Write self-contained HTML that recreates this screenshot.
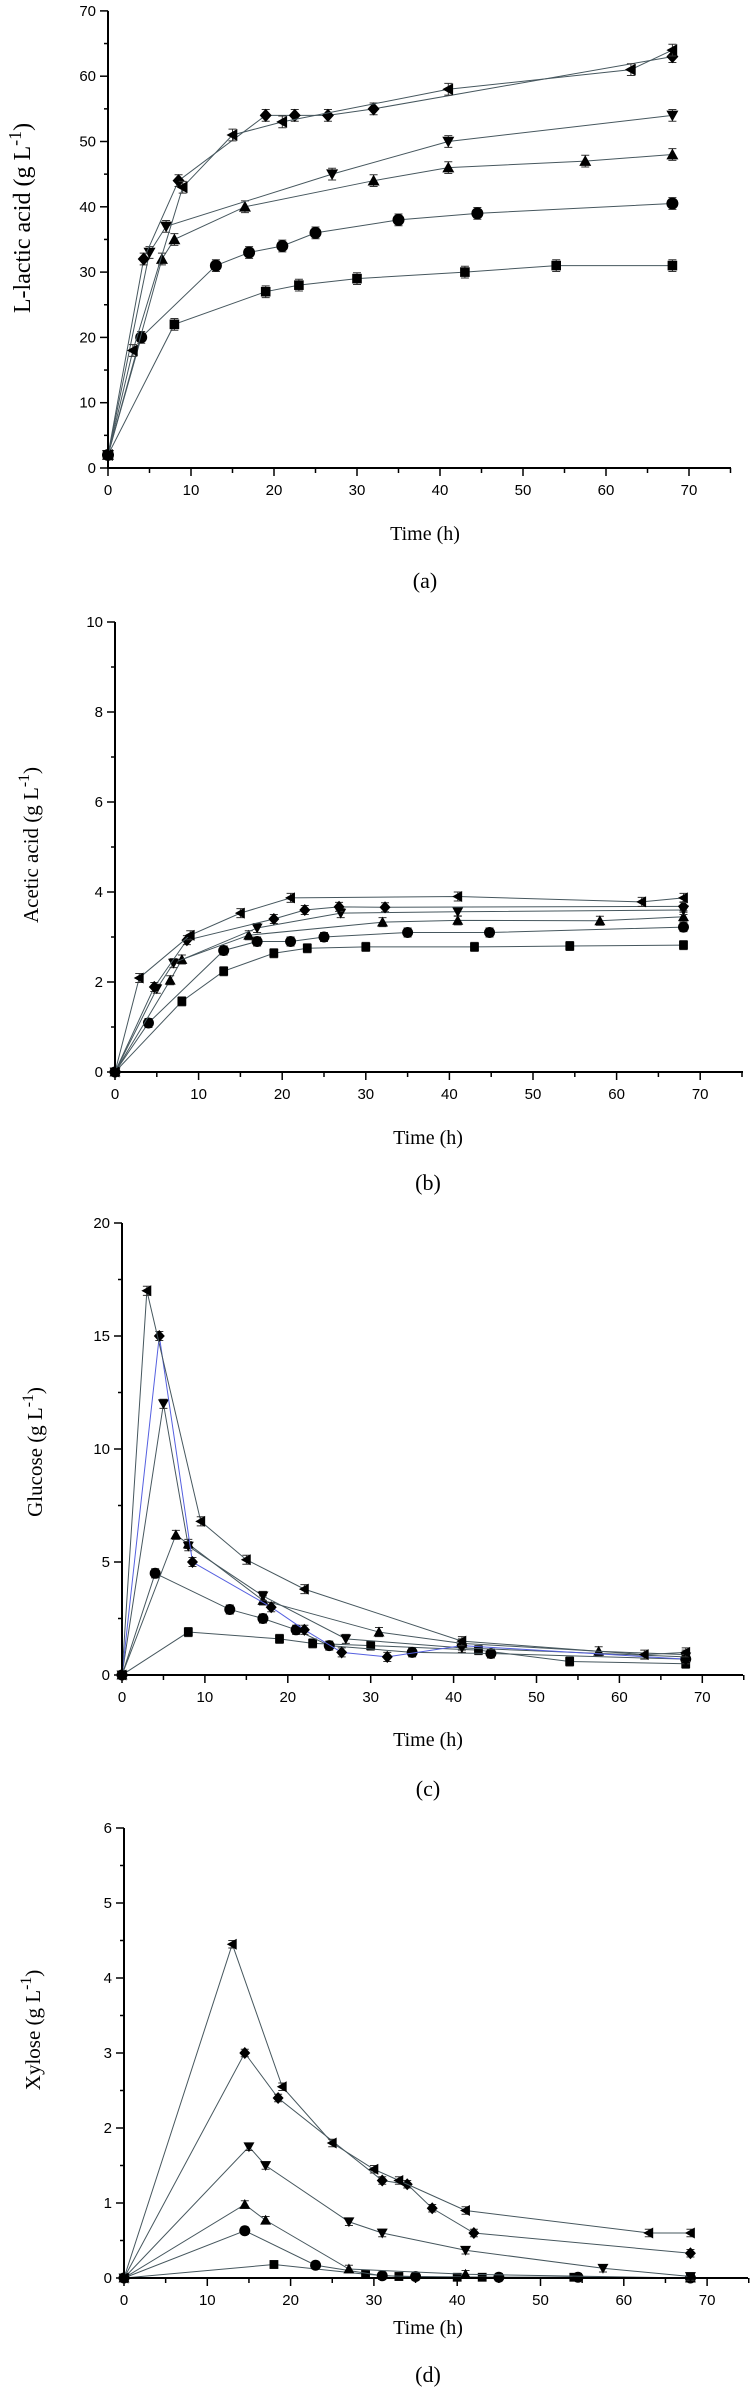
<!DOCTYPE html>
<html><head><meta charset="utf-8">
<style>
html,body{margin:0;padding:0;background:#fff;}
svg{display:block;}
.tk{font-family:"Liberation Sans",Arial,sans-serif;font-size:15px;fill:#000;}
.ttl{font-family:"Liberation Serif","Times New Roman",serif;fill:#000;}
</style></head>
<body>
<svg id="fig" width="750" height="2392" viewBox="0 0 750 2392" xmlns="http://www.w3.org/2000/svg"></svg>
<script>
// ---------- Chart (a) L-lactic acid ----------
const aSquareT=[0,8,19,23,30,43,54,68];
const aSquareV=[2,22,27,28,29,30,31,31];
const aCircleT=[0,4,13,17,21,25,35,44.5,68];
const aCircleV=[2,20,31,33,34,36,38,39,40.5];
const aUpT=[0,6.5,8,16.5,32,41,57.5,68];
const aUpV=[2,32,35,40,44,46,47,48];
const aDownT=[0,5,7,27,41,68];
const aDownV=[2,33,37,45,50,54];
const aDiamondT=[0,4.3,8.5,19,22.5,26.5,32,68];
const aDiamondV=[2,32,44,54,54,54,55,63];
const aLeftT=[0,3,9,15,21,41,63,68];
const aLeftV=[2,18,43,51,53,58,61,64];
const aYTicks=[0,10,20,30,40,50,60,70];
// ---------- Chart (b) Acetic acid ----------
const bSquareT=[0,8,13,19,23,30,43,54.4,68];
const bSquareV=[0,1.57,2.24,2.64,2.75,2.78,2.78,2.8,2.82];
const bCircleT=[0,4,13,17,21,25,35,44.8,68];
const bCircleV=[0,1.09,2.7,2.9,2.9,3.0,3.1,3.1,3.22];
const bUpT=[0,6.6,8,16,32,41,58,68];
const bUpV=[0,2.04,2.5,3.04,3.33,3.37,3.36,3.45];
const bDownT=[0,5,7,17,27,41,68];
const bDownV=[0,1.85,2.42,3.2,3.53,3.56,3.6];
const bDiamondT=[0,4.7,8.6,19,22.7,26.8,32.3,68];
const bDiamondV=[0,1.89,2.93,3.4,3.6,3.67,3.66,3.68];
const bLeftT=[0,2.9,9,15,21,41,63,68];
const bLeftV=[0,2.09,3.04,3.53,3.87,3.9,3.78,3.87];
const bYTicks=[0,2,4,6,8,10];
// ---------- Chart (c) Glucose ----------
const cSquareT=[0,8,19,23,30,43,54,68];
const cSquareV=[0,1.9,1.6,1.4,1.3,1.1,0.6,0.5];
const cCircleT=[0,4,13,17,21,25,35,44.5,68];
const cCircleV=[0,4.5,2.9,2.5,2.0,1.3,1.0,0.95,0.7];
const cUpT=[0,6.5,8,17,31,41,57.5,68];
const cUpV=[0,6.2,5.8,3.3,1.9,1.4,1.05,0.9];
const cDownT=[0,5,8,17,27,41,68];
const cDownV=[0,12,5.7,3.5,1.6,1.2,0.8];
const cDiamondT=[0,4.5,8.5,18,22,26.5,32,41,68];
const cDiamondV=[0,15,5.0,3.0,2.0,1.0,0.8,1.3,0.7];
const cLeftT=[0,3,9.5,15,22,41,63,68];
const cLeftV=[0,17,6.8,5.1,3.8,1.5,0.9,1.0];
const cYTicks=[0,5,10,15,20];
// ---------- Chart (d) Xylose ----------
const dSquareT=[0,18,29,33,40,43,54,68];
const dSquareV=[0,0.18,0.05,0.02,0.01,0.01,0.01,0];
const dCircleT=[0,14.5,23,31,35,45,54.5,68];
const dCircleV=[0,0.63,0.17,0.03,0.02,0.01,0.01,0];
const dUpT=[0,14.5,17,27,41,68];
const dUpV=[0,0.98,0.77,0.12,0.05,0];
const dDownT=[0,15,17,27,31,41,57.5,68];
const dDownV=[0,1.75,1.5,0.75,0.6,0.37,0.13,0.02];
const dDiamondT=[0,14.5,18.5,31,34,37,42,68];
const dDiamondV=[0,3.0,2.4,1.3,1.25,0.93,0.6,0.33];
const dLeftT=[0,13,19,25,30,33,41,63,68];
const dLeftV=[0,4.45,2.55,1.8,1.45,1.3,0.9,0.6,0.6];
const dYTicks=[0,1,2,3,4,5,6];
const xTicks=[0,10,20,30,40,50,60,70];

const NS='http://www.w3.org/2000/svg';
const fig=document.getElementById('fig');
function mk(tag,attrs,parent){const e=document.createElementNS(NS,tag);for(const k in attrs)e.setAttribute(k,attrs[k]);(parent||fig).appendChild(e);return e;}

function marker(g,shape,x,y,s){
  let e;
  if(shape==='square'){e=mk('rect',{x:x-s*0.8,y:y-s*0.8,width:s*1.6,height:s*1.6,fill:'#000'},g);}
  else if(shape==='circle'){e=mk('circle',{cx:x,cy:y,r:s,fill:'#000'},g);}
  else if(shape==='up'){e=mk('polygon',{points:`${x},${y-s} ${x+s},${y+s*0.8} ${x-s},${y+s*0.8}`,fill:'#000'},g);}
  else if(shape==='down'){e=mk('polygon',{points:`${x},${y+s} ${x+s},${y-s*0.8} ${x-s},${y-s*0.8}`,fill:'#000'},g);}
  else if(shape==='diamond'){e=mk('polygon',{points:`${x},${y-s*1.1} ${x+s},${y} ${x},${y+s*1.1} ${x-s},${y}`,fill:'#000'},g);}
  else {e=mk('polygon',{points:`${x-s},${y} ${x+s*0.8},${y-s} ${x+s*0.8},${y+s}`,fill:'#000'},g);}
  
  
}

function chart(cfg){
  const g=mk('g',{});
  
  
  const X=t=>cfg.x0+t*cfg.px;
  const Y=v=>cfg.y0-(v-cfg.ymin)*cfg.py;
  const ymax=cfg.yTicks[cfg.yTicks.length-1];
  cfg.series.forEach(s=>{
    const sg=mk('g',{},g);
    
    
    const pts=s.t.map((t,i)=>X(t)+','+Y(s.v[i])).join(' ');
    const pl=mk('polyline',{points:pts,fill:'none',stroke:s.color||'#46575e','stroke-width':1},sg);
    
    
    s.t.forEach((t,i)=>{
      if(i>0&&cfg.err>0){
        const x=X(t),y1=Y(s.v[i]+cfg.err),y2=Y(s.v[i]-cfg.err);
        const eb=mk('path',{d:`M${x},${y1}V${y2}M${x-4},${y1}H${x+4}M${x-4},${y2}H${x+4}`,stroke:'#333','stroke-width':1,fill:'none'},sg);
        
        
      }
      marker(sg,s.shape,X(t),Y(s.v[i]),cfg.ms);
    });
  });
  const ax=mk('path',{d:`M${cfg.x0},${Y(ymax)}V${cfg.y0}H${cfg.xEnd}`,stroke:'#000','stroke-width':2,fill:'none'},g);
  
  
  cfg.yTicks.forEach((v,i)=>{
    const y=Y(v);
    mk('line',{x1:cfg.x0-8,x2:cfg.x0,y1:y,y2:y,stroke:'#000','stroke-width':1.5},g);
    if(i<cfg.yTicks.length-1){const ym=Y((v+cfg.yTicks[i+1])/2);mk('line',{x1:cfg.x0-4,x2:cfg.x0,y1:ym,y2:ym,stroke:'#000','stroke-width':1.5},g);}
    const tx=mk('text',{x:cfg.x0-12,y:y+5,'text-anchor':'end',class:'tk'},g);
    tx.textContent=v;
    
    
  });
  xTicks.forEach(t=>{
    const x=X(t);
    mk('line',{x1:x,x2:x,y1:cfg.y0,y2:cfg.y0+8,stroke:'#000','stroke-width':1.5},g);
    const xm=X(t+5);
    if(xm<=cfg.xEnd+1)mk('line',{x1:xm,x2:xm,y1:cfg.y0,y2:cfg.y0+5,stroke:'#000','stroke-width':1.5},g);
    const tx=mk('text',{x:x,y:cfg.y0+27,'text-anchor':'middle',class:'tk'},g);
    tx.textContent=t;
    
    
  });
  const xt=mk('text',{x:cfg.xtX,y:cfg.xtY,'text-anchor':'middle',class:'ttl','font-size':20},g);
  xt.textContent='Time (h)';
  
  
  const yt=mk('text',{transform:`translate(${cfg.ytX},${cfg.ytY}) rotate(-90)`,'text-anchor':'middle',class:'ttl','font-size':cfg.ytSize},g);
  yt.innerHTML=cfg.ytitle+' (g L<tspan dy="-9" font-size="'+(cfg.ytSize*0.75)+'">-1</tspan><tspan dy="9">)</tspan>';
  
  
  const pl=mk('text',{x:cfg.xtX,y:cfg.plY,'text-anchor':'middle',class:'ttl','font-size':22},g);
  pl.textContent=cfg.panel;
  
  
}

chart({name:'chart-a-lactic-acid',x0:108,px:8.3,xEnd:731,y0:468,ymin:0,py:6.53,yTicks:aYTicks,ms:6,err:0.9,
  xtX:425,xtY:540,plY:588,panel:'(a)',ytitle:'L-lactic acid',ytX:30,ytY:218,ytSize:24,
  series:[{shape:'square',t:aSquareT,v:aSquareV},{shape:'circle',t:aCircleT,v:aCircleV},{shape:'up',t:aUpT,v:aUpV},
  {shape:'down',t:aDownT,v:aDownV},{shape:'diamond',t:aDiamondT,v:aDiamondV},{shape:'left',t:aLeftT,v:aLeftV}]});
chart({name:'chart-b-acetic-acid',x0:115,px:8.36,xEnd:743,y0:1072,ymin:0,py:45,yTicks:bYTicks,ms:5.5,err:0.1,
  xtX:428,xtY:1144,plY:1190,panel:'(b)',ytitle:'Acetic acid',ytX:38,ytY:845,ytSize:21,
  series:[{shape:'square',t:bSquareT,v:bSquareV},{shape:'circle',t:bCircleT,v:bCircleV},{shape:'up',t:bUpT,v:bUpV},
  {shape:'down',t:bDownT,v:bDownV},{shape:'diamond',t:bDiamondT,v:bDiamondV},{shape:'left',t:bLeftT,v:bLeftV}]});
chart({name:'chart-c-glucose',x0:122,px:8.29,xEnd:743,y0:1675,ymin:0,py:22.6,yTicks:cYTicks,ms:5.5,err:0.2,
  xtX:428,xtY:1746,plY:1796,panel:'(c)',ytitle:'Glucose',ytX:42,ytY:1452,ytSize:21,
  series:[{shape:'square',t:cSquareT,v:cSquareV},{shape:'circle',t:cCircleT,v:cCircleV},{shape:'up',t:cUpT,v:cUpV},
  {shape:'down',t:cDownT,v:cDownV},{shape:'diamond',t:cDiamondT,v:cDiamondV,color:'#5560e0'},{shape:'left',t:cLeftT,v:cLeftV}]});
chart({name:'chart-d-xylose',x0:124,px:8.33,xEnd:748,y0:2278,ymin:0,py:75,yTicks:dYTicks,ms:5.5,err:0.05,
  xtX:428,xtY:2334,plY:2382,panel:'(d)',ytitle:'Xylose',ytX:40,ytY:2030,ytSize:21,
  series:[{shape:'square',t:dSquareT,v:dSquareV},{shape:'circle',t:dCircleT,v:dCircleV},{shape:'up',t:dUpT,v:dUpV},
  {shape:'down',t:dDownT,v:dDownV},{shape:'diamond',t:dDiamondT,v:dDiamondV},{shape:'left',t:dLeftT,v:dLeftV}]});
</script>
</body></html>
